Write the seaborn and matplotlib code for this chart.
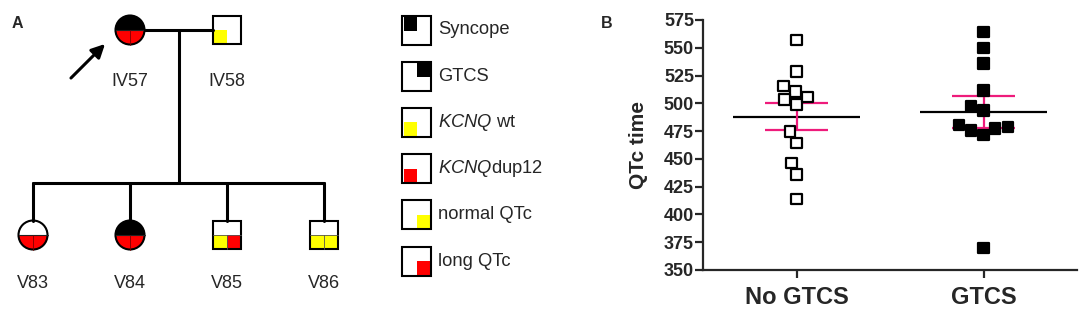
import numpy as np
import pandas as pd
import matplotlib
matplotlib.use('Agg')
import matplotlib.pyplot as plt
from matplotlib.patches import Wedge, Circle, Rectangle
import seaborn as sns

# QTc 데이터 (panel B)
groups = ['No GTCS', 'GTCS']
no_gtcs = [557, 528.5, 510.5, 515.5, 503.5, 499, 505.5, 474.5, 464.5, 446.5, 436, 414]
gtcs = [564, 550, 536, 511.5, 493.5, 497.5, 478.5, 475.5, 471.5, 477.5, 480.5, 370]
yticks = [350, 375, 400, 425, 450, 475, 500, 525, 550, 575]

# 가계도 데이터 (panel A)
ind_names = ['IV57', 'IV58', 'V83', 'V84', 'V85', 'V86']
ind_sex = ['F', 'M', 'F', 'F', 'M', 'M']
ind_gen = [0, 0, 1, 1, 1, 1]
ind_col = [1, 2, 0, 1, 2, 3]
ind_seizure = [True, False, False, True, False, False]   # syncope + GTCS
ind_geno = ['dup12', 'wt', 'dup12', 'dup12', 'wt', 'wt']
ind_qtc = ['long', None, 'long', 'long', 'long', 'normal']
proband = 'IV57'

legend_labels = ['Syncope', 'GTCS', r'$\mathit{KCNQ}$ wt', r'$\mathit{KCNQ}$dup12',
                 'normal QTc', 'long QTc']
legend_quads = [('tl', 'black'), ('tr', 'black'), ('bl', 'yellow'), ('bl', 'red'),
                ('br', 'yellow'), ('br', 'red')]

geno_col = {'wt': '#FFFF00', 'dup12': '#FF0000'}
qtc_col = {'normal': '#FFFF00', 'long': '#FF0000', None: 'white'}
pink = '#EE1B7B'

sns.set_style('ticks')
plt.rcParams['font.family'] = ['Liberation Sans', 'DejaVu Sans']
plt.rcParams['mathtext.fontset'] = 'custom'
plt.rcParams['mathtext.it'] = 'Liberation Sans:italic'
plt.rcParams['mathtext.rm'] = 'Liberation Sans'

fig = plt.figure(figsize=(10.84, 3.16), dpi=100)

# ---------------- panel A ----------------
axa = fig.add_axes([0, 0, 640 / 1084, 1])
axa.set_xlim(0, 640)
axa.set_ylim(316, 0)
axa.axis('off')

row_y = [30, 235]
col_x = lambda c: 33 + 97 * c
r, s = 14.5, 28
lw_line = 2.2


def draw_person(x, y, sex, seizure, geno, qtc):
    top = 'black' if seizure else 'white'
    if sex == 'F':
        axa.add_patch(Wedge((x, y), r, 180, 360, facecolor=top, edgecolor='none'))
        axa.add_patch(Wedge((x, y), r, 90, 180, facecolor=geno_col[geno], edgecolor='none'))
        axa.add_patch(Wedge((x, y), r, 0, 90, facecolor=qtc_col[qtc], edgecolor='none'))
        axa.plot([x - r, x + r], [y, y], color='#222222', lw=0.8)
        axa.plot([x, x], [y, y + r], color='#7a0000', lw=0.6)
        axa.add_patch(Circle((x, y), r, fill=False, edgecolor='black', lw=1.5))
        return y - r
    h = s / 2
    axa.add_patch(Rectangle((x - h, y - h), s, h, facecolor=top, edgecolor='none'))
    axa.add_patch(Rectangle((x - h, y), h, h, facecolor=geno_col[geno], edgecolor='none'))
    axa.add_patch(Rectangle((x, y), h, h, facecolor=qtc_col[qtc], edgecolor='none'))
    if qtc is not None:
        axa.plot([x - h, x + h], [y, y], color='#555555', lw=0.6)
        axa.plot([x, x], [y, y + h], color='#555555', lw=0.6)
    axa.add_patch(Rectangle((x - h, y - h), s, s, fill=False, edgecolor='black', lw=1.5))
    return y - h


tops = {}
for name, sex, g, c, sz, ge, q in zip(ind_names, ind_sex, ind_gen, ind_col,
                                      ind_seizure, ind_geno, ind_qtc):
    x, y = col_x(c), row_y[g]
    tops[name] = draw_person(x, y, sex, sz, ge, q)
    ly = 81 if g == 0 else 283
    axa.text(x, ly, name, ha='center', va='center', fontsize=13)

# 혼인선, 자손선
px = [col_x(c) for c, g in zip(ind_col, ind_gen) if g == 0]
axa.plot([px[0] + r, px[1] - s / 2], [row_y[0], row_y[0]], color='black', lw=lw_line)
mid = (px[0] + px[1]) / 2
sib_y = 183
axa.plot([mid, mid], [row_y[0], sib_y], color='black', lw=lw_line)
cx = [col_x(c) for c, g in zip(ind_col, ind_gen) if g == 1]
axa.plot([min(cx), max(cx)], [sib_y, sib_y], color='black', lw=lw_line)
for name, c, g in zip(ind_names, ind_col, ind_gen):
    if g == 1:
        axa.plot([col_x(c), col_x(c)], [sib_y, tops[name]], color='black', lw=lw_line)

# proband arrow
pi = ind_names.index(proband)
axa.annotate('', xy=(col_x(ind_col[pi]) - 23, row_y[0] + 12),
             xytext=(col_x(ind_col[pi]) - 61, row_y[0] + 50),
             arrowprops=dict(arrowstyle='-|>', lw=2.2, color='black', mutation_scale=20))

axa.text(17, 24, 'A', fontsize=11.5, fontweight='bold', ha='center', va='center')

# legend
for i, (lab, (quad, colr)) in enumerate(zip(legend_labels, legend_quads)):
    yc = 30 + 46.2 * i
    x0, b = 402, 29
    h = b / 2 - 1
    qx = x0 + 1.5 if quad[1] == 'l' else x0 + b / 2
    qy = yc - b / 2 + 1.5 if quad[0] == 't' else yc
    axa.add_patch(Rectangle((qx, qy), h, h, facecolor=colr, edgecolor='none'))
    axa.add_patch(Rectangle((x0, yc - b / 2), b, b, fill=False, edgecolor='black', lw=1.5))
    axa.text(438, yc, lab, fontsize=13.2, ha='left', va='center')

# ---------------- panel B ----------------
axb = fig.add_axes([703 / 1084, 46 / 316, 374 / 1084, 250 / 316])
df = pd.DataFrame({
    'group': [groups[0]] * len(no_gtcs) + [groups[1]] * len(gtcs),
    'qtc': no_gtcs + gtcs,
})

for i, vals in enumerate([no_gtcs, gtcs]):
    v = np.array(vals)
    m = v.mean()
    sem = v.std(ddof=1) / np.sqrt(len(v))
    axb.hlines(m, i - 0.34, i + 0.34, color='black', lw=1.6, zorder=2)
    axb.hlines([m - sem, m + sem], i - 0.17, i + 0.17, color=pink, lw=1.6, zorder=2)
    axb.vlines(i, m - sem, m + sem, color=pink, lw=1.6, zorder=2)

sns.swarmplot(data=df, x='group', y='qtc', hue='group', order=groups,
              palette={'No GTCS': 'white', 'GTCS': 'black'}, marker='s', size=7.5,
              edgecolor='black', linewidth=1.6, legend=False, ax=axb, zorder=3)

axb.set_xlim(-0.5, 1.5)
axb.set_ylim(350, 575)
axb.set_yticks(yticks)
axb.set_xlabel('')
axb.set_ylabel('QTc time', fontsize=15, fontweight='bold')
axb.yaxis.set_label_coords(-0.148, 0.5)
sns.despine(ax=axb)
for sp in ['left', 'bottom']:
    axb.spines[sp].set_linewidth(1.6)
axb.tick_params(axis='y', length=5.5, width=1.6, labelsize=13, pad=1)
axb.tick_params(axis='x', length=5.5, width=1.6, labelsize=17, pad=6)
plt.setp(axb.get_yticklabels(), fontweight='bold')
plt.setp(axb.get_xticklabels(), fontweight='bold')

fig.text(607 / 1084, 1 - 23 / 316, 'B', fontsize=11.5, fontweight='bold', ha='center', va='center')

fig.savefig('out.png', dpi=100)
